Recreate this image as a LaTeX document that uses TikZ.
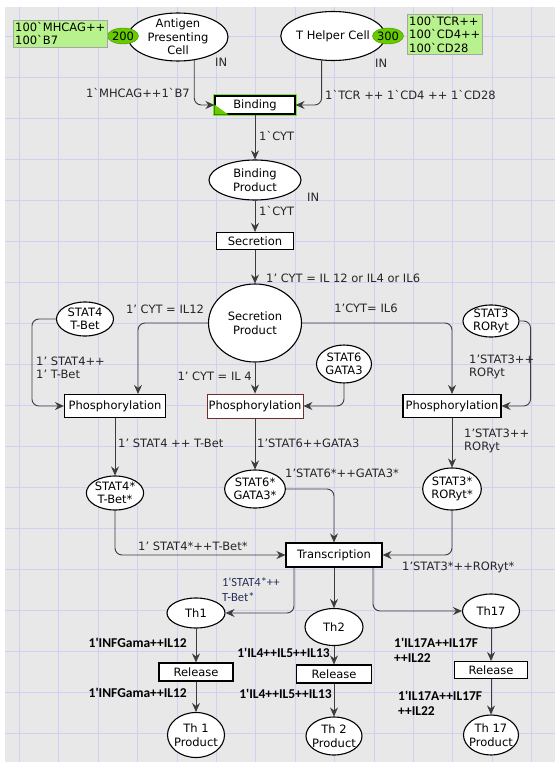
\documentclass[tikz,border=0pt]{standalone}
\usepackage{fontspec}
\setmainfont{DejaVu Sans}
\newfontfamily\calib{Carlito}
\usetikzlibrary{shapes.geometric,arrows.meta}
\definecolor{bggray}{RGB}{232,232,232}
\definecolor{gridblue}{RGB}{208,208,244}
\definecolor{markgreen}{RGB}{184,242,140}
\definecolor{tokengreen}{RGB}{102,204,0}
\definecolor{glowgreen}{RGB}{128,224,64}
\definecolor{arcgray}{RGB}{60,60,60}
\definecolor{phbrown}{RGB}{112,44,44}
\definecolor{bluish}{RGB}{40,48,90}
\begin{document}
\begin{tikzpicture}[x=1pt, y=-1pt,
    font=\fontsize{11.5}{13.5}\selectfont,
    place/.style={ellipse, draw=black, line width=1.1pt, fill=white, inner sep=0pt, align=center},
    trans/.style={rectangle, draw=black, line width=1.2pt, fill=white, inner sep=0pt},
    arc/.style={draw=arcgray, line width=0.9pt, rounded corners=7pt, -{Stealth[length=9pt, width=8pt, inset=3pt]}},
    inscr/.style={inner sep=0pt, align=left, text=black!85},
    boldinscr/.style={inner sep=0pt, align=left, font=\calib\fontsize{13.5}{15}\selectfont\bfseries},
    token/.style={ellipse, fill=tokengreen, draw=tokengreen!70!black, inner sep=0pt, minimum width=30pt, minimum height=16pt},
    marking/.style={rectangle, fill=markgreen, draw=black!35, inner sep=2pt, align=left, anchor=north west}]
    \useasboundingbox (0,0) rectangle (555,762);
    % Background grid
    \fill[bggray] (5,7) rectangle (555,762);
    \foreach \x in {0,...,13} {
        \draw[gridblue, line width=0.8pt] (19.3+39.4*\x, 7) -- (19.3+39.4*\x, 762);
    }
    \foreach \y in {0,...,17} {
        \draw[gridblue, line width=0.8pt] (5, 36+41*\y) -- (555, 36+41*\y);
    }
    % Input places
    \node[place, minimum width=100pt, minimum height=48pt, inner ysep=-2pt] (apc) at (178,37) {Antigen\\Presenting\\Cell};
    \node[place, minimum width=100pt, minimum height=49pt] (thc) at (333,36) {T Helper Cell};
    \node[token] (tok200) at (123,36) {200};
    \node[token] (tok300) at (388,36) {300};
    \node[marking] (mk200) at (13,20) {100ˋMHCAG++\\100ˋB7};
    \node[marking] (mk300) at (407,14) {100ˋTCR++\\100ˋCD4++\\100ˋCD28};
    \node[inscr, anchor=west] (in-apc) at (215,62) {IN};
    \node[inscr, anchor=west] (in-thc) at (375,63) {IN};
    % Binding and secretion
    \node[trans, minimum width=80pt, minimum height=18pt, preaction={draw=glowgreen, line width=4pt}] (bind) at (255,105) {Binding};
    \fill[tokengreen] (bind.south west) -- ([xshift=14pt]bind.south west) -- ([yshift=10pt]bind.south west) -- cycle;
    \node[place, minimum width=92pt, minimum height=40pt] (bprod) at (255,180) {Binding\\Product};
    \node[inscr, anchor=west] (in-bprod) at (307,197) {IN};
    \node[trans, minimum width=77pt, minimum height=17pt] (sec) at (255,241) {Secretion};
    \node[place, minimum width=93pt, minimum height=78pt] (sp) at (255,323) {Secretion\\Product};
    % Transcription factors
    \node[place, minimum width=57pt, minimum height=34pt, inner ysep=-2pt] (s4) at (85,319) {STAT4\\T-Bet};
    \node[place, minimum width=56pt, minimum height=32pt, inner ysep=-2pt] (s3) at (491,321) {STAT3\\RORyt};
    \node[place, minimum width=55pt, minimum height=38pt, inner ysep=-2pt] (s6) at (344,364) {STAT6\\GATA3};
    \node[trans, minimum width=101pt, minimum height=23pt] (ph4) at (115,406) {Phosphorylation};
    \node[trans, minimum width=96pt, minimum height=24pt, draw=phbrown, line width=0.9pt] (ph6) at (255,406) {Phosphorylation};
    \node[trans, minimum width=98pt, minimum height=23pt] (ph3) at (452,406) {Phosphorylation};
    \node[place, minimum width=57pt, minimum height=34pt, inner ysep=-2pt] (s4s) at (115,493) {STAT4*\\T-Bet*};
    \node[place, minimum width=55pt, minimum height=38pt, inner ysep=-2pt] (s6s) at (255,489) {STAT6*\\GATA3*};
    \node[place, minimum width=57pt, minimum height=42pt, inner ysep=-2pt] (s3s) at (452,489) {STAT3*\\RORyt*};
    \node[trans, minimum width=96pt, minimum height=24pt] (tr) at (334,555) {Transcription};
    % Helper subsets
    \node[place, minimum width=58pt, minimum height=30pt] (th1) at (196,613) {Th1};
    \node[place, minimum width=58pt, minimum height=37pt] (th2) at (334,627) {Th2};
    \node[place, minimum width=57pt, minimum height=34pt] (th17) at (491,611) {Th17};
    \node[trans, minimum width=74pt, minimum height=18pt] (rel1) at (196,672) {Release};
    \node[trans, minimum width=75pt, minimum height=18pt] (rel2) at (334,674) {Release};
    \node[trans, minimum width=73pt, minimum height=17pt] (rel17) at (491,670) {Release};
    \node[place, minimum width=57pt, minimum height=45pt, inner xsep=-6pt, inner ysep=-2pt] (p1) at (196,735) {Th 1\\Product};
    \node[place, minimum width=56pt, minimum height=38pt, inner xsep=-6pt, inner ysep=-4pt] (p2) at (334,736) {Th 2\\Product};
    \node[place, minimum width=55pt, minimum height=40pt, inner xsep=-6pt, inner ysep=-4pt] (p17) at (491,735) {Th 17\\Product};
    % Arcs
    \draw[arc] (apc.-55) |- (bind.west);
    \draw[arc] (thc.-115) |- (bind.east);
    \draw[arc] (bind.south) -- (bprod.north);
    \draw[arc] (bprod.south) -- (sec.north);
    \draw[arc] (sec.south) -- (sp.north);
    \draw[arc] (sp.west) -| ([xshift=23pt]ph4.north);
    \draw[arc] (sp.east) -| (ph3.north);
    \draw[arc] (sp.south) -- (ph6.north);
    \draw[arc] (s4.west) -- ([xshift=-24pt]s4.west) |- (ph4.west);
    \draw[arc] (s3.east) -- ([xshift=11pt]s3.east) |- (ph3.east);
    \draw[arc] (s6.south) |- (ph6.east);
    \draw[arc] (ph4.south) -- (s4s.north);
    \draw[arc] (ph6.south) -- (s6s.north);
    \draw[arc] (ph3.south) -- (s3s.north);
    \draw[arc] (s4s.south) |- (tr.west);
    \draw[arc] (s6s.east) -| (tr.north);
    \draw[arc] (s3s.south) |- (tr.east);
    \draw[arc] ([xshift=-40pt]tr.south) |- (th1.east);
    \draw[arc] (tr.south) -- (th2.north);
    \draw[arc] ([xshift=39pt]tr.south) |- (th17.west);
    \draw[arc] (th1.south) -- (rel1.north);
    \draw[arc] (th2.south) -- (rel2.north);
    \draw[arc] (th17.south) -- (rel17.north);
    \draw[arc] (rel1.south) -- (p1.north);
    \draw[arc] (rel2.south) -- (p2.north);
    \draw[arc] (rel17.south) -- (p17.north);
    % Arc inscriptions
    \node[inscr, anchor=east] (l-apc) at (190,93) {1ˋMHCAG++1ˋB7};
    \node[inscr, anchor=west] (l-thc) at (325,95) {1ˋTCR ++ 1ˋCD4 ++ 1ˋCD28};
    \node[inscr, anchor=west] (l-bind) at (259,136) {1ˋCYT};
    \node[inscr, anchor=west] (l-bprod) at (259,211) {1ˋCYT};
    \node[inscr, anchor=west] (l-sec) at (266,278) {1' CYT = IL 12 or IL4 or IL6};
    \node[inscr] (l-il12) at (165,309) {1' CYT = IL12};
    \node[inscr] (l-il6) at (366,308) {1'CYT= IL6};
    \node[inscr, anchor=west] (l-s4) at (36,368) {1' STAT4++\\1' T-Bet};
    \node[inscr, anchor=east] (l-il4) at (252,376) {1' CYT = IL 4};
    \node[inscr, anchor=west] (l-s3) at (469,367) {1'STAT3++\\RORyt};
    \node[inscr, anchor=west] (l-ph4) at (118,443) {1' STAT4 ++ T-Bet};
    \node[inscr, anchor=west] (l-ph6) at (257,443) {1'STAT6++GATA3};
    \node[inscr, anchor=west] (l-ph3) at (464,441) {1'STAT3++\\RORyt};
    \node[inscr, anchor=west] (l-s6s) at (285,473) {1'STAT6*++GATA3*};
    \node[inscr, anchor=west] (l-s4s) at (138,546) {1' STAT4*++T-Bet*};
    \node[inscr, anchor=west] (l-s3s) at (402,567) {1'STAT3*++RORyt*};
    \node[inscr, anchor=west, text=bluish, font=\calib\fontsize{12.5}{15}\selectfont] (l-th1) at (222,590) {1'STAT4*++\\T-Bet*};
    \node[boldinscr, anchor=east] (l-th1a) at (187,643) {1'INFGama++IL12};
    \node[boldinscr, anchor=east] (l-th2a) at (330,653) {1'IL4++IL5++IL13};
    \node[boldinscr, anchor=west] (l-th17a) at (394,650) {1'IL17A++IL17F\\++IL22};
    \node[boldinscr, anchor=east] (l-rel1) at (187,693) {1'INFGama++IL12};
    \node[boldinscr, anchor=east] (l-rel2) at (332,694) {1'IL4++IL5++IL13};
    \node[boldinscr, anchor=west] (l-rel17) at (398,703) {1'IL17A++IL17F\\++IL22};
\end{tikzpicture}
\end{document}
